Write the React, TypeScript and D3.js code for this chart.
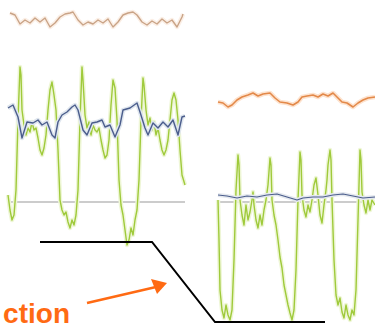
import React, { useEffect, useRef } from "react";
import { select, scaleLinear, line, curveLinear } from "d3";

// left recording: [time, amplitude]
const leftGreen = [
  [0, 7], [2, -8], [4, -18], [6, -13], [8, 12], [10, 82], [12, 135], [13, 127], [14, 92], [16, 77],
  [18, 67], [20, 74], [22, 70], [24, 80], [26, 72], [28, 74], [30, 64], [32, 52], [34, 47], [36, 54],
  [38, 67], [40, 92], [42, 112], [44, 120], [46, 107], [48, 92], [50, 52], [52, 2], [54, -8], [56, -13],
  [58, -10], [60, -20], [62, -26], [64, -18], [66, -23], [68, -13], [70, 12], [72, 82], [74, 135], [75, 122],
  [77, 87], [79, 74], [81, 80], [83, 67], [85, 77], [87, 72], [89, 70], [91, 74], [93, 62], [95, 52],
  [97, 44], [99, 47], [101, 62], [103, 97], [105, 122], [107, 114], [109, 82], [111, 22], [113, -3], [115, -13],
  [117, -28], [119, -43], [121, -38], [123, -26], [125, -33], [127, -18], [129, -8], [131, 22], [133, 82], [135, 124],
  [136, 117], [138, 92], [140, 77], [142, 84], [144, 72], [146, 80], [148, 67], [150, 74], [152, 62], [154, 52],
  [156, 47], [158, 52], [160, 62], [162, 82], [164, 102], [166, 109], [168, 102], [170, 82], [172, 52], [174, 27],
  [177, 17],
];
const leftBlue = [
  [0, 94], [5, 97], [10, 85], [14, 64], [19, 80], [25, 79], [30, 82], [34, 77], [39, 80], [44, 67],
  [47, 64], [50, 80], [54, 87], [59, 90], [64, 95], [67, 97], [70, 92], [75, 72], [79, 67], [84, 79],
  [89, 80], [94, 82], [97, 75], [102, 77], [107, 65], [112, 77], [115, 92], [122, 94], [129, 99], [132, 90],
  [137, 74], [140, 67], [145, 79], [150, 74], [155, 80], [160, 75], [165, 82], [170, 67], [174, 85], [177, 86],
];
const leftOrange = [
  [2, 189], [7, 187], [12, 178], [17, 182], [22, 179], [27, 184], [32, 180], [37, 184], [42, 175], [47, 179],
  [52, 185], [57, 188], [62, 189], [65, 190], [70, 182], [75, 177], [80, 180], [85, 178], [90, 182], [95, 179],
  [100, 183], [105, 175], [110, 180], [115, 187], [120, 189], [125, 190], [129, 187], [134, 180], [139, 177], [144, 181],
  [149, 178], [154, 183], [159, 179], [164, 182], [169, 175], [174, 185], [175, 188],
];

// right recording
const rightGreen = [
  [0, 2], [1, -38], [2, -88], [4, -108], [6, -116], [8, -103], [10, -113], [12, -118], [14, -108], [16, -58],
  [18, 12], [20, 47], [21, 37], [22, 2], [24, -13], [26, -23], [28, -3], [30, -18], [32, -10], [34, 2],
  [35, 10], [36, -3], [38, -18], [40, -26], [42, -13], [44, -23], [46, -8], [48, 2], [50, 17], [52, 44],
  [53, 37], [54, 2], [56, -13], [58, -23], [60, -38], [62, -55], [64, -66], [66, -83], [68, -93], [70, -103],
  [72, -111], [74, -118], [76, -108], [78, -68], [80, 2], [82, 50], [83, 42], [84, 7], [86, -8], [88, -15],
  [90, -3], [92, -10], [94, 2], [96, 17], [98, 24], [100, 7], [102, -13], [104, -21], [106, -3], [108, 12],
  [109, 22], [110, 37], [112, 52], [113, 42], [114, 2], [116, -58], [118, -93], [120, -103], [122, -96], [124, -110],
  [126, -116], [128, -103], [130, -113], [132, -118], [134, -108], [136, -113], [138, -88], [140, -18], [142, 52], [143, 42],
  [144, 10], [146, -3], [148, -11], [150, 2], [152, -8], [154, 2], [157, -3],
];
const rightBlue = [
  [0, 7], [9, 6], [19, 4], [29, 6], [39, 5], [49, 7], [59, 8], [69, 5], [79, 2], [85, 4],
  [95, 5], [105, 5], [115, 7], [125, 8], [135, 6], [145, 4], [157, 5],
];
const rightOrange = [
  [0, 100], [5, 99], [10, 95], [14, 97], [19, 102], [24, 105], [30, 107], [35, 109], [40, 106], [45, 108],
  [52, 109], [57, 104], [62, 100], [69, 99], [75, 97], [80, 100], [84, 105], [89, 106], [95, 107], [100, 105],
  [105, 108], [110, 106], [115, 109], [119, 105], [124, 100], [129, 99], [135, 95], [140, 99], [145, 102], [150, 104],
  [157, 105],
];

// protocol ramp (time, level)
const ramp = [[0, 1], [112, 1], [175, 0], [285, 0]];
const label = "ction";

const W = 375;
const H = 325;

const App = () => {
  const svgRef = useRef<SVGSVGElement>(null);

  useEffect(() => {
    const svg = select(svgRef.current);
    svg.selectAll("*").remove();

    const defs = svg.append("defs");
    defs.append("filter").attr("id", "soft")
      .append("feGaussianBlur").attr("stdDeviation", 0.5);

    const yScale = scaleLinear().domain([0, 140]).range([202, 62]);
    const xLeft = scaleLinear().domain([0, 177]).range([8, 185]);
    const xRight = scaleLinear().domain([0, 157]).range([218, 375]);

    const g = svg.append("g").attr("filter", "url(#soft)");

    const drawTrace = (data, xs, color, halo, w) => {
      const gen = line().x(d => xs(d[0])).y(d => yScale(d[1])).curve(curveLinear);
      g.append("path").datum(data).attr("fill", "none")
        .attr("stroke", halo).attr("stroke-width", w + 3).attr("stroke-linejoin", "round")
        .attr("d", gen);
      g.append("path").datum(data).attr("fill", "none")
        .attr("stroke", color).attr("stroke-width", w).attr("stroke-linejoin", "round")
        .attr("d", gen);
    };

    // baselines
    [[xLeft, 177], [xRight, 157]].forEach(([xs, end]: any) => {
      g.append("line")
        .attr("x1", xs(0)).attr("x2", xs(end))
        .attr("y1", yScale(0)).attr("y2", yScale(0))
        .attr("stroke", "#9a9a9a").attr("stroke-width", 1.2);
    });

    drawTrace(leftOrange, xLeft, "#c9a386", "#fbefe6", 1.4);
    drawTrace(leftGreen, xLeft, "#9fca3a", "#eef6d6", 1.4);
    drawTrace(leftBlue, xLeft, "#4b5d8c", "#dfe6ee", 1.4);

    drawTrace(rightOrange, xRight, "#e3894a", "#fde3cf", 1.6);
    drawTrace(rightGreen, xRight, "#9fca3a", "#eef6d6", 1.4);
    drawTrace(rightBlue, xRight, "#4b5d8c", "#e4e8ee", 1.2);

    // step/ramp annotation
    const xr = scaleLinear().domain([0, 285]).range([40, 325]);
    const yr = scaleLinear().domain([0, 1]).range([322, 242]);
    svg.append("path").datum(ramp).attr("fill", "none")
      .attr("stroke", "#000").attr("stroke-width", 2)
      .attr("d", line().x(d => xr(d[0])).y(d => yr(d[1])));

    // arrow
    svg.append("line")
      .attr("x1", 87).attr("y1", 303).attr("x2", 156).attr("y2", 287)
      .attr("stroke", "#ff6a13").attr("stroke-width", 2.6);
    svg.append("path")
      .attr("d", "M167,283 L151,279 L157,294 Z")
      .attr("fill", "#ff6a13");

    svg.append("text")
      .attr("x", 70).attr("y", 323)
      .attr("text-anchor", "end")
      .attr("font-family", "Liberation Sans, Arial, sans-serif")
      .attr("font-weight", "bold")
      .attr("font-size", 28)
      .attr("fill", "#ff6a13")
      .text(label);
  }, []);

  return (
    <svg ref={svgRef} width={W} height={H}
      style={{ position: "absolute", left: 0, top: 0, background: "#fff" }} />
  );
};

export default App;
